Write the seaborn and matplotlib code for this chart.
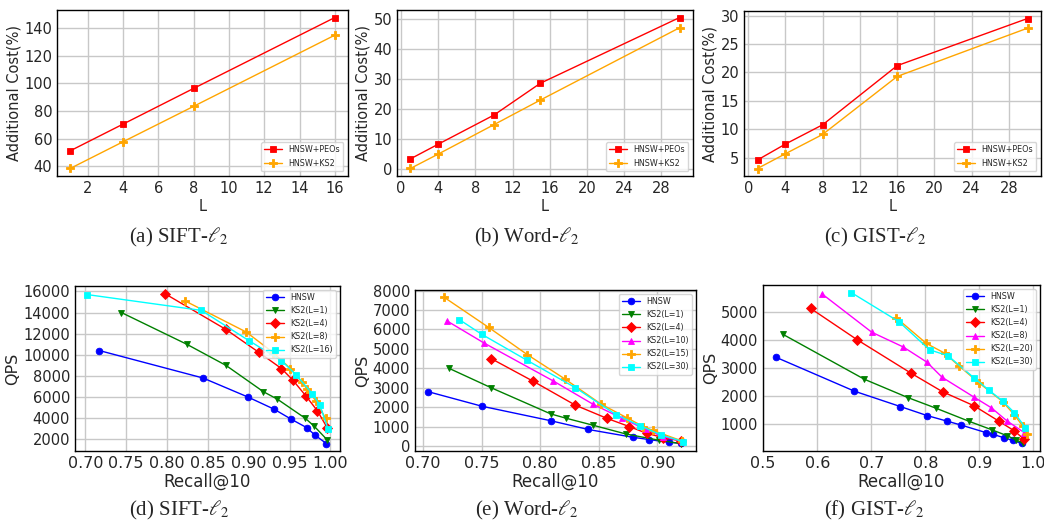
import numpy as np
import pandas as pd
import matplotlib
matplotlib.use("Agg")
import matplotlib.pyplot as plt
from matplotlib.ticker import FormatStrFormatter
import seaborn as sns

# ---------------- data: additional cost vs L ----------------
sift_L = [1, 4, 8, 16]
sift_peos = [51.1, 70.5, 96.4, 147.8]
sift_ks2 = [38.3, 57.7, 83.4, 135.0]

word_L = [1, 4, 10, 15, 30]
word_peos = [3.5, 8.4, 18.1, 28.7, 50.6]
word_ks2 = [0.3, 5.1, 14.9, 23.1, 47.2]

gist_L = [1, 4, 8, 16, 30]
gist_peos = [4.6, 7.4, 10.8, 21.2, 29.5]
gist_ks2 = [3.1, 5.7, 9.1, 19.3, 27.8]

# ---------------- data: QPS vs Recall@10 ----------------
sift_hnsw_r = [0.717, 0.844, 0.899, 0.931, 0.952, 0.971, 0.981, 0.995]
sift_hnsw_q = [10400, 7800, 6000, 4850, 3900, 3100, 2400, 1600]
sift_l1_r = [0.744, 0.824, 0.872, 0.918, 0.935, 0.969, 0.980, 0.996]
sift_l1_q = [14000, 11000, 9000, 6500, 5800, 4000, 3250, 1950]
sift_l4_r = [0.797, 0.872, 0.912, 0.940, 0.954, 0.970, 0.984, 0.996]
sift_l4_q = [15800, 12400, 10250, 8700, 7600, 6100, 4700, 3100]
sift_l8_r = [0.822, 0.897, 0.930, 0.951, 0.965, 0.971, 0.982, 0.994]
sift_l8_q = [15100, 12150, 10200, 8700, 7400, 6800, 5650, 4000]
sift_l16_r = [0.702, 0.842, 0.900, 0.940, 0.958, 0.978, 0.987, 0.997]
sift_l16_q = [15700, 14200, 11350, 9450, 8100, 6300, 5250, 3000]

word_hnsw_r = [0.704, 0.750, 0.809, 0.841, 0.879, 0.893, 0.910, 0.920]
word_hnsw_q = [2800, 2050, 1300, 850, 450, 330, 190, 150]
word_l1_r = [0.722, 0.758, 0.809, 0.822, 0.845, 0.873, 0.901, 0.920]
word_l1_q = [4000, 3000, 1650, 1430, 1070, 620, 300, 120]
word_l4_r = [0.758, 0.794, 0.830, 0.857, 0.876, 0.891, 0.905, 0.920]
word_l4_q = [4500, 3330, 2100, 1420, 1000, 650, 430, 260]
word_l10_r = [0.720, 0.752, 0.811, 0.845, 0.870, 0.890, 0.905, 0.921]
word_l10_q = [6450, 5300, 3350, 2150, 1420, 850, 480, 260]
word_l15_r = [0.718, 0.756, 0.789, 0.821, 0.852, 0.874, 0.888, 0.896, 0.921]
word_l15_q = [7650, 6100, 4700, 3450, 2150, 1450, 1000, 800, 260]
word_l30_r = [0.731, 0.750, 0.789, 0.830, 0.865, 0.885, 0.903, 0.922]
word_l30_q = [6500, 5750, 4400, 3000, 1600, 1050, 570, 225]

gist_hnsw_r = [0.523, 0.669, 0.754, 0.803, 0.840, 0.866, 0.912, 0.925, 0.946, 0.962, 0.979]
gist_hnsw_q = [3390, 2170, 1620, 1300, 1100, 960, 690, 630, 500, 410, 300]
gist_l1_r = [0.537, 0.687, 0.768, 0.820, 0.880, 0.923, 0.951, 0.968, 0.981]
gist_l1_q = [4200, 2600, 1940, 1560, 1100, 790, 580, 430, 300]
gist_l4_r = [0.588, 0.674, 0.774, 0.832, 0.890, 0.936, 0.964, 0.983]
gist_l4_q = [5130, 4010, 2810, 2150, 1650, 1100, 760, 450]
gist_l8_r = [0.608, 0.701, 0.759, 0.803, 0.831, 0.890, 0.922, 0.951, 0.983]
gist_l8_q = [5665, 4280, 3755, 3210, 2670, 1960, 1580, 1110, 690]
gist_l20_r = [0.746, 0.802, 0.836, 0.862, 0.900, 0.943, 0.965, 0.980, 0.989]
gist_l20_q = [4800, 3880, 3530, 3080, 2460, 1800, 1320, 930, 640]
gist_l30_r = [0.663, 0.751, 0.808, 0.842, 0.890, 0.917, 0.943, 0.965, 0.985]
gist_l30_q = [5700, 4660, 3650, 3440, 2650, 2220, 1820, 1400, 870]

# ---------------- styling ----------------
sns.set_style("white")
plt.rcParams["font.family"] = ["DejaVu Sans"]
plt.rcParams["mathtext.fontset"] = "stix"

W, H = 1044, 523
fig = plt.figure(figsize=(W / 100, H / 100), dpi=100)


def make_axes(left, top, right, bottom):
    return fig.add_axes([left / W, 1 - bottom / H, (right - left) / W, (bottom - top) / H])


def style_axes(ax, xsize, ysize):
    ax.grid(True, color="#c8c8c8", linewidth=1.0)
    ax.set_axisbelow(True)
    for sp in ax.spines.values():
        sp.set_color("black")
        sp.set_linewidth(1.0)
    ax.tick_params(direction="in", length=3, width=0.8)
    ax.tick_params(axis="x", labelsize=xsize)
    ax.tick_params(axis="y", labelsize=ysize)


def draw(ax, x, y, color, marker, label):
    ms = 6.0 if marker == "P" else 4.8
    df = pd.DataFrame({"x": x, "y": y})
    sns.lineplot(data=df, x="x", y="y", ax=ax, color=color, marker=marker,
                 markersize=ms, markeredgecolor=color, markeredgewidth=0.6,
                 linewidth=1.0, label=label, sort=False, estimator=None)


# top row: additional cost
cost_panels = [
    ((57, 10, 348, 176), sift_L, sift_peos, sift_ks2, np.arange(40, 141, 20), np.arange(2, 17, 2)),
    ((397, 10, 693, 176), word_L, word_peos, word_ks2, np.arange(0, 51, 10), np.arange(0, 29, 4)),
    ((744, 11, 1041, 176), gist_L, gist_peos, gist_ks2, np.arange(5, 31, 5), np.arange(0, 29, 4)),
]
for box, L, peos, ks2, yt, xt in cost_panels:
    ax = make_axes(*box)
    style_axes(ax, 10.5, 10.5)
    draw(ax, L, peos, "red", "s", "HNSW+PEOs")
    draw(ax, L, ks2, "orange", "P", "HNSW+KS2")
    ax.set_yticks(yt)
    ax.set_xticks(xt)
    ax.set_xlabel("L", fontsize=10.5, labelpad=2)
    ax.set_ylabel("Additional Cost(%)", fontsize=10.5, labelpad=2)
    ax.legend(loc="lower right", fontsize=5.8, frameon=True, fancybox=True,
              borderaxespad=0.6, handlelength=2.2, labelspacing=0.6)

# bottom row: QPS vs recall
qps_panels = [
    ((75, 286, 340, 451),
     [(sift_hnsw_r, sift_hnsw_q, "blue", "o", "HNSW"),
      (sift_l1_r, sift_l1_q, "green", "v", "KS2(L=1)"),
      (sift_l4_r, sift_l4_q, "red", "D", "KS2(L=4)"),
      (sift_l8_r, sift_l8_q, "orange", "P", "KS2(L=8)"),
      (sift_l16_r, sift_l16_q, "cyan", "s", "KS2(L=16)")],
     np.arange(2000, 16001, 2000), np.arange(0.70, 1.001, 0.05), "%.2f"),
    ((415, 290, 696, 451),
     [(word_hnsw_r, word_hnsw_q, "blue", "o", "HNSW"),
      (word_l1_r, word_l1_q, "green", "v", "KS2(L=1)"),
      (word_l4_r, word_l4_q, "red", "D", "KS2(L=4)"),
      (word_l10_r, word_l10_q, "magenta", "^", "KS2(L=10)"),
      (word_l15_r, word_l15_q, "orange", "P", "KS2(L=15)"),
      (word_l30_r, word_l30_q, "cyan", "s", "KS2(L=30)")],
     np.arange(0, 8001, 1000), np.arange(0.70, 0.901, 0.05), "%.2f"),
    ((763, 285, 1040, 451),
     [(gist_hnsw_r, gist_hnsw_q, "blue", "o", "HNSW"),
      (gist_l1_r, gist_l1_q, "green", "v", "KS2(L=1)"),
      (gist_l4_r, gist_l4_q, "red", "D", "KS2(L=4)"),
      (gist_l8_r, gist_l8_q, "magenta", "^", "KS2(L=8)"),
      (gist_l20_r, gist_l20_q, "orange", "P", "KS2(L=20)"),
      (gist_l30_r, gist_l30_q, "cyan", "s", "KS2(L=30)")],
     np.arange(1000, 5001, 1000), np.arange(0.5, 1.001, 0.1), "%.1f"),
]
for box, series, yt, xt, fmt in qps_panels:
    ax = make_axes(*box)
    style_axes(ax, 11.5, 10.5)
    for r, q, c, m, lab in series:
        draw(ax, r, q, c, m, lab)
    ax.set_yticks(yt)
    ax.set_xticks(xt)
    ax.xaxis.set_major_formatter(FormatStrFormatter(fmt))
    ax.set_xlabel("Recall@10", fontsize=12, labelpad=1)
    ax.set_ylabel("QPS", fontsize=11.5, labelpad=2)
    ax.legend(loc="upper right", fontsize=5.8, frameon=True, fancybox=True,
              borderaxespad=0.5, handlelength=2.2, labelspacing=0.5)

# sub-figure captions
captions = [
    (179, 237, r"(a) SIFT-$\ell_2$"), (527, 237, r"(b) Word-$\ell_2$"), (875, 237, r"(c) GIST-$\ell_2$"),
    (179, 510, r"(d) SIFT-$\ell_2$"), (527, 510, r"(e) Word-$\ell_2$"), (874, 510, r"(f) GIST-$\ell_2$"),
]
for cx, cy, txt in captions:
    fig.text(cx / W, 1 - cy / H, txt, ha="center", va="center",
             fontsize=15, family=["Liberation Serif", "DejaVu Serif"])

fig.savefig("out.png", dpi=100)
